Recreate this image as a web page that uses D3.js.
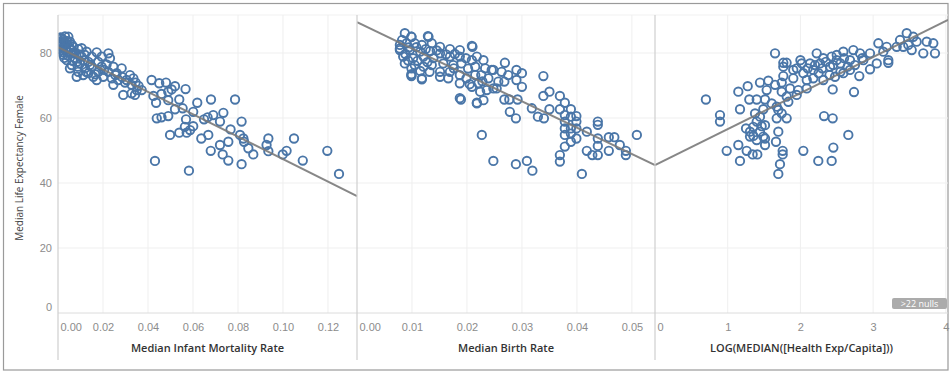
<!DOCTYPE html>
<html><head><meta charset="utf-8">
<script src="https://cdn.jsdelivr.net/npm/d3@7/dist/d3.min.js"></script>
<style>
html,body{margin:0;padding:0;background:#fff;}
svg{display:block;font-family:"Open Sans","Lato",sans-serif;}
</style></head>
<body><svg id="chart" width="952" height="373"></svg>
<script>
// ---------- DATA ----------
const yTitle = "Median Life Expectancy Female";
const xTitles = ["Median Infant Mortality Rate", "Median Birth Rate", "LOG(MEDIAN([Health Exp/Capita]))"];
const yTicks = [0, 20, 40, 60, 80];
const yMax = 91.7;
const xTicks1 = [0, 0.02, 0.04, 0.06, 0.08, 0.10, 0.12];
const xTicks2 = [0, 0.01, 0.02, 0.03, 0.04, 0.05];
const xTicks3 = [0, 1, 2, 3, 4];
const xMaxes = [0.1329, 0.0542, 4.03];
const tickFormats = [".2f", ".2f", "d"];
const nullsNote = ">22 nulls";
// trend lines: [intercept, slope]
const trendLines = [[81.8, -344.6], [89.5, -811.8], [45.5, 11.09]];

const infantMortality = [
[0.0031,85.1],[0.0046,85],[0.0024,84],[0.0053,83.5],[0.0013,82.7],[0.0031,82.2],[0.0068,81.9],[0.009,81.2],[0.0016,80.9],[0.0046,80.4],
[0.0127,80.4],[0.0172,80.2],[0.0224,79.9],[0.0231,78.4],[0.0194,78.9],[0.015,78.9],[0.0105,78.9],[0.0076,78.4],[0.0039,77.8],[0.0061,76.3],
[0.0098,76.8],[0.0135,77.3],[0.0179,77.3],[0.0216,76.5],[0.0246,75.8],[0.0283,75.3],[0.0261,73.8],[0.0224,74.2],[0.0179,74.2],[0.0135,73.8],
[0.009,74.2],[0.0112,73.2],[0.0157,72.7],[0.0201,72.7],[0.0172,71.7],[0.0239,72.2],[0.0268,71.7],[0.032,73.2],[0.0335,72.2],[0.0305,71.7],
[0.0327,70.2],[0.035,68.6],[0.029,67.1],[0.0327,67.6],[0.0342,67.1],[0.0372,68.6],[0.0068,79.9],[0.0053,75.3],[0.012,75.3],[0.015,75.8],
[0.0194,75.8],[0.0016,84.5],[0.0009,81.9],[0.0024,79.4],[0.0083,72.7],[0.0246,70.2],[0.002,83.2],[0.004,82.8],[0.0058,80.9],[0.001,83.6],
[0.0035,81.2],[0.0075,80.2],[0.0105,81.5],[0.0085,77.3],[0.0028,78.5],[0.0115,77.8],[0.0142,76.3],
[0.0005,83],[0.0012,84.8],[0.0022,81.5],[0.0038,83.7],[0.005,81.8],[0.0062,82.5],[0.0025,80.2],[0.0045,79.2],[0.0065,77.6],[0.0095,79.6],
[0.0118,79.5],[0.0088,75.8],[0.0125,74.2],[0.0165,73.5],[0.0205,74.8],[0.0255,73.2],[0.0285,72.6],[0.0298,70.9],[0.0345,70.9],[0.0358,69.9],
[0.0416,71.7],[0.045,70.7],[0.048,70.9],[0.052,69.8],[0.0567,68.9],[0.0424,66.8],[0.0436,64.7],[0.046,67.4],[0.049,68.1],[0.0505,68.8],
[0.0539,65.7],[0.049,65.5],[0.052,62.7],[0.0554,63],[0.0619,64.7],[0.0601,61.9],[0.068,65.7],[0.0787,65.7],[0.0439,59.9],[0.046,60.2],
[0.049,60.6],[0.0569,59.6],[0.0564,57.3],[0.0601,57.5],[0.0587,56.3],[0.0572,55.5],[0.0539,55.5],[0.0498,54.8],[0.0649,59.6],[0.0665,60.2],
[0.069,60.9],[0.0735,61.6],[0.072,58.9],[0.0637,53.7],[0.0668,54.8],[0.0679,49.9],[0.072,51.7],[0.0732,48.8],[0.0757,52.7],[0.0767,56.5],
[0.0757,46.9],[0.0816,58.9],[0.0809,54.8],[0.0824,53.7],[0.0827,52.7],[0.0846,50.7],[0.0868,48.8],[0.0816,45.8],[0.0935,53.7],[0.0927,51.7],
[0.0935,49.8],[0.0999,48.8],[0.1016,49.9],[0.1049,53.7],[0.1088,46.9],[0.1197,49.9],[0.1249,42.8],[0.0431,46.8],[0.0582,43.8]
];

const birthRate = [
[0.0087,86.1],[0.0099,85],[0.0129,85.2],[0.0209,82.2],[0.0078,81.4],[0.0269,77],[0.029,74.8],[0.03,73.8],[0.0339,72.9],[0.0263,74.2],
[0.0245,74.8],[0.0275,73.2],[0.0257,71.2],[0.029,71.7],[0.03,69.6],[0.0268,71.2],[0.0248,69.1],[0.023,65.5],[0.0218,64.7],[0.0189,65.7],
[0.0268,65.7],[0.0277,65.7],[0.0292,65.7],[0.0278,61.9],[0.0289,59.9],[0.0318,63],[0.0329,60.4],[0.034,59.9],[0.035,62.7],[0.0339,66.8],
[0.035,68.1],[0.0369,66.8],[0.0378,64.7],[0.0369,62.7],[0.0389,62.7],[0.0378,60.9],[0.0389,60.4],[0.0399,60.6],[0.0378,58.9],[0.0399,58.9],
[0.0378,56.8],[0.0389,56.8],[0.0399,56.8],[0.0378,54.8],[0.0389,55.2],[0.0399,53.7],[0.0389,52.7],[0.0418,55.8],[0.0438,58.9],[0.0438,57.9],
[0.0438,53.7],[0.0438,51.4],[0.0458,54.1],[0.0468,54.1],[0.0478,51.7],[0.0418,49.9],[0.0428,48.6],[0.0438,48.6],[0.0458,49.9],[0.0489,49.9],
[0.0489,48.6],[0.0509,54.8],[0.0378,51.2],[0.0369,48.6],[0.0369,46.6],[0.0409,42.8],[0.0227,54.8],[0.0248,46.8],[0.0289,45.8],[0.0309,46.8],
[0.0319,43.8],[0.0118,71.9],[0.0099,73.5],[0.0099,72.9],
[0.0099,85],[0.013,85],[0.0078,82.5],[0.009,83],[0.0105,83],[0.0118,82.5],[0.0136,83],[0.0151,81.9],[0.0169,81.2],[0.0187,80.9],
[0.021,81.9],[0.0078,80.9],[0.0096,80.9],[0.0115,80.4],[0.0133,80.6],[0.0151,79.9],[0.0084,78.9],[0.0102,78.4],[0.0121,78.9],[0.0139,78.4],
[0.0169,78.9],[0.0187,78.9],[0.0087,76.8],[0.0105,76.3],[0.0121,75.8],[0.0136,76.3],[0.0157,76.8],[0.0175,76.3],[0.019,76.8],[0.0209,77.8],
[0.0218,78.9],[0.023,77.8],[0.0215,75.8],[0.0233,75.3],[0.0099,75.3],[0.0099,73.2],[0.0118,72.2],[0.0151,72.7],[0.0166,72.2],[0.0151,74.2],
[0.0169,74.2],[0.0187,73.2],[0.0187,70.7],[0.0199,72.2],[0.0215,73.2],[0.0221,70.7],[0.0239,72.2],[0.0248,74.8],[0.0209,69.6],[0.0224,68.1],
[0.0218,64.5],[0.0187,66.1],[0.0254,69.1],[0.0236,68.6],
[0.0082,84],[0.0094,81.7],[0.0108,81.8],[0.0125,81.2],[0.0088,79.7],[0.011,77.6],[0.0128,77.2],[0.0093,77.7],[0.0145,80.8],[0.0162,79.6],
[0.0178,79.7],[0.0198,78.4],[0.0115,74.5],[0.0132,74.2],[0.0176,75.3],[0.0202,75.2],[0.0226,73.2],[0.0228,71.3],[0.0205,70.4]
];

const healthExpLog = [
[0.70,65.7],[0.894,60.9],[0.894,58.9],[1.146,68.1],[1.275,69.8],[1.169,62.7],[1.297,65.7],[1.399,65.7],[1.513,65.7],[1.444,70.9],
[1.559,71.5],[1.651,79.9],[1.765,77],[1.81,77],[1.743,70.9],[1.765,72.9],[1.252,56.8],[1.307,54.3],[1.353,54.5],[1.444,55.8],
[1.513,57.8],[1.444,60.4],[1.49,62.7],[1.605,64.5],[1.696,62.5],[1.674,59.9],[1.811,59.9],[1.696,55.8],[1.513,53.7],[1.513,51.7],
[1.664,52.7],[1.352,57.3],[0.986,49.9],[1.146,51.7],[1.169,46.8],[1.261,49.9],[1.343,48.8],[1.407,48.8],[1.756,49.9],[1.756,48.8],
[1.719,45.8],[1.696,42.8],[2.04,49.9],[2.246,46.8],[2.43,46.8],[2.453,50.9],[2.659,54.8],[2.325,60.6],[2.444,59.9],[2.444,68.8],
[2.737,68],[1.857,69.1],[1.971,68.6],[2.087,69.1],[1.834,65],[1.949,67.1],[2.224,79.9],[2.018,76.8],[2.132,76.8],[1.902,74.8],
[2.04,73.8],[2.177,74.8],[2.27,76.8],[2.315,78.4],[2.43,78.9],[2.499,77.8],[2.59,80.4],[2.728,80.9],[2.82,79.9],[2.957,79.9],
[3.072,83],[3.187,81.9],[3.324,81.9],[3.462,86.1],[3.553,85],[3.599,83.5],[3.737,83.5],[3.828,83],[3.851,79.9],[3.69,79.9],
[3.531,80.9],[3.415,81.9],[3.209,77.8],[3.209,77],[2.957,75],[2.81,72.9],[2.682,74.8],[2.59,73.8],[2.476,72.7],[2.315,71.7],
[2.407,75.8],[2.682,77.8],[2.865,77.8],[3.05,76.8],[3.14,80.4],[3.37,84],[3.484,82.5],[1.902,72.2],[2.087,71.7],[2.177,72.2],
[1.765,75.8],[1.651,70.2],[1.536,68.6],[1.743,68.1],[1.811,66.6],[1.674,63.5],[1.743,61.4],[1.376,61.4],[1.399,58.9],[1.467,57.5],
[1.307,55.8],[1.399,53.2],[1.49,54.3],
[2.2,76.3],[2.3,75.3],[2.35,77.3],[2.45,76.3],[2.55,76.8],[2.6,78.4],[2.5,79.4],[2.65,75.8],[2.75,76.3],[2.1,75.3],
[2.0,77.8],[1.95,75.3],[2.55,74.2],[2.4,73.2],[2.25,73.8],[2.85,78.4]
];

// ---------- LAYOUT ----------
const svg = d3.select("#chart");
const plotTop = 15, plotBottom = 313, axisBottom = 360;
const panelEdges = [[58, 357], [357, 655], [655, 948]];
const allData = [infantMortality, birthRate, healthExpLog];
const allTicks = [xTicks1, xTicks2, xTicks3];
const blue = "#4a76a8";

const y = d3.scaleLinear().domain([0, yMax]).range([plotBottom, plotTop]);

// outer border
svg.append("rect").attr("x", 3.5).attr("y", 3.5).attr("width", 944.5).attr("height", 366.5)
  .attr("fill", "none").attr("stroke", "#9a9a9a").attr("stroke-width", 1.2);

// horizontal grid
svg.append("g").selectAll("line").data(yTicks.filter(d => d > 0)).join("line")
  .attr("x1", 58).attr("x2", 948).attr("y1", d => y(d)).attr("y2", d => y(d))
  .attr("stroke", "#efefef").attr("stroke-width", 1);
svg.append("line").attr("x1", 58).attr("x2", 948).attr("y1", plotTop).attr("y2", plotTop)
  .attr("stroke", "#f1f1f1");

// y axis labels
const yAxis = d3.axisLeft(y).tickValues(yTicks).tickSize(0).tickPadding(0).tickFormat(d3.format("d"));
const yg = svg.append("g").attr("transform", "translate(52,0)").call(yAxis);
yg.select(".domain").remove();
yg.selectAll("text").attr("fill", "#8c8c8c").style("font-size", "11px")
  .attr("dy", d => d === 0 ? "-0.25em" : "0.32em");

svg.append("text").attr("transform", `translate(23,${(plotTop + plotBottom) / 2 + 4}) rotate(-90)`)
  .attr("text-anchor", "middle").attr("fill", "#444").style("font-size", "10px").text(yTitle);

panelEdges.forEach((edge, i) => {
  const x = d3.scaleLinear().domain([0, xMaxes[i]]).range(edge);
  const g = svg.append("g");
  g.selectAll("line.grid").data(allTicks[i].filter(d => d > 0)).join("line")
    .attr("class", "grid")
    .attr("x1", d => x(d)).attr("x2", d => x(d)).attr("y1", plotTop).attr("y2", plotBottom)
    .attr("stroke", "#efefef");
  const xa = d3.axisBottom(x).tickValues(allTicks[i]).tickSize(0).tickPadding(0)
    .tickFormat(d3.format(tickFormats[i]));
  const xg = svg.append("g").attr("transform", `translate(0,${plotBottom + 18})`).call(xa);
  xg.select(".domain").remove();
  xg.selectAll("text").attr("fill", "#8c8c8c").style("font-size", "11px").attr("dy", 0)
    .attr("text-anchor", d => d === 0 ? "start" : "middle")
    .attr("dx", d => d === 0 ? 2 : 0);
  svg.append("text").attr("x", (edge[0] + edge[1]) / 2).attr("y", 352)
    .attr("text-anchor", "middle").attr("fill", "#333").style("font-size", "11px")
    .style("font-weight", "600").text(xTitles[i]);

  const cid = "clip" + i;
  svg.append("clipPath").attr("id", cid).append("rect")
    .attr("x", edge[0]).attr("y", plotTop - 12).attr("width", edge[1] - edge[0]).attr("height", plotBottom - plotTop + 12);
  const pg = svg.append("g").attr("clip-path", `url(#${cid})`);
  pg.selectAll("circle").data(allData[i]).join("circle")
    .attr("cx", d => x(d[0])).attr("cy", d => y(d[1])).attr("r", 4.2)
    .attr("fill", "none").attr("stroke", blue).attr("stroke-width", 1.9);
  const [b, m] = trendLines[i];
  const dom = x.domain();
  pg.append("line")
    .attr("x1", x(dom[0])).attr("y1", y(b + m * dom[0]))
    .attr("x2", x(dom[1])).attr("y2", y(b + m * dom[1]))
    .attr("stroke", "#7a7a7a").attr("stroke-width", 2).attr("stroke-opacity", 0.9);
});

// axis baseline and panel dividers
svg.append("line").attr("x1", 58).attr("x2", 948).attr("y1", plotBottom).attr("y2", plotBottom)
  .attr("stroke", "#dcdcdc");
svg.selectAll("line.div").data([58, 357, 655]).join("line").attr("class", "div")
  .attr("x1", d => d).attr("x2", d => d).attr("y1", plotTop).attr("y2", axisBottom)
  .attr("stroke", "#cfcfcf").attr("stroke-width", 1.2);

// nulls badge
const badge = svg.append("g");
badge.append("rect").attr("x", 892).attr("y", 298).attr("width", 55).attr("height", 11).attr("rx", 2)
  .attr("fill", "#ababab");
badge.append("text").attr("x", 919.5).attr("y", 306.5).attr("text-anchor", "middle")
  .attr("fill", "#fff").style("font-size", "9px").text(nullsNote);
</script></body></html>
